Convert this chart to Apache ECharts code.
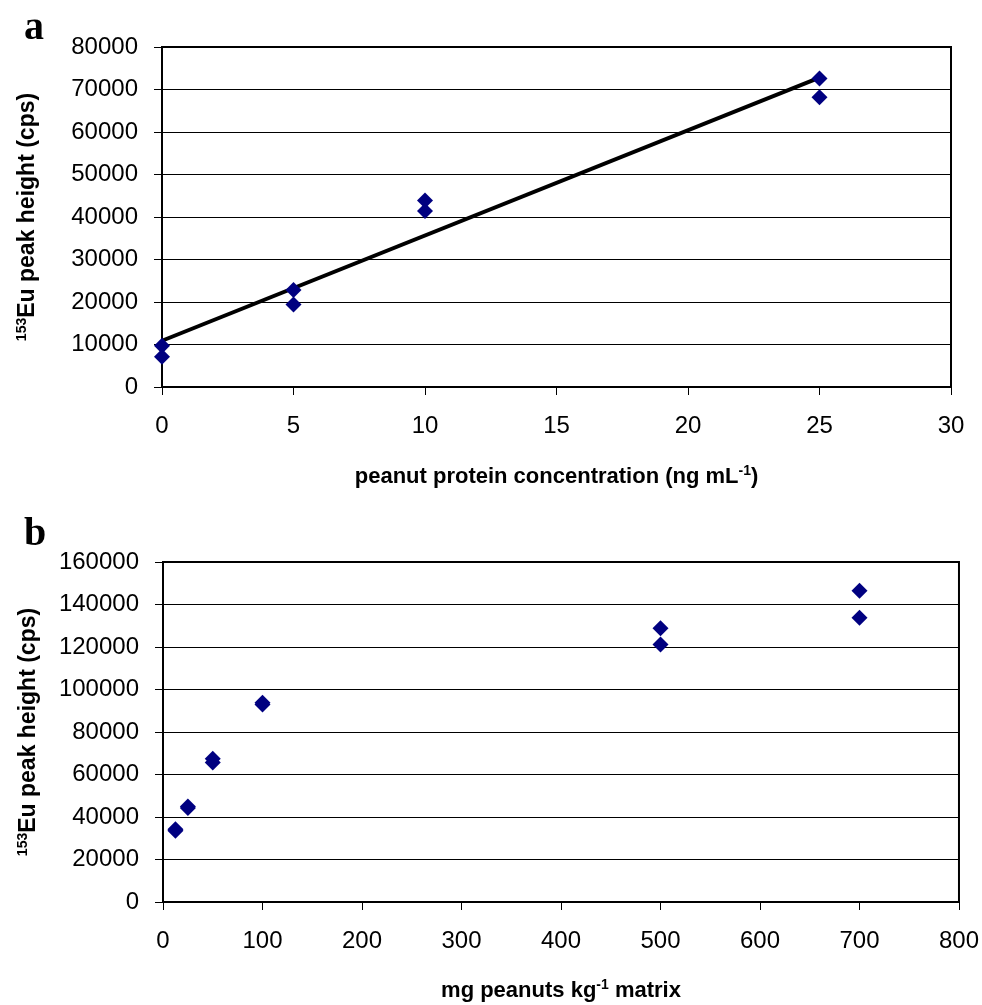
<!DOCTYPE html>
<html><head><meta charset="utf-8">
<script src="https://cdn.jsdelivr.net/npm/echarts@6/dist/echarts.min.js"></script>
<style>html,body{margin:0;padding:0;background:#fff}#c{width:982px;height:1005px}</style>
</head><body><div id="c"></div>
<script>
// Panel a: calibration
const aX = [0, 0, 5, 5, 10, 10, 25, 25];
const aY = [9700, 7100, 22800, 19400, 43900, 41400, 72600, 68200];
const aYTicks = [0, 10000, 20000, 30000, 40000, 50000, 60000, 70000, 80000];
const aXTicks = [0, 5, 10, 15, 20, 25, 30];
// Panel b: spiked matrix
const bX = [12.5, 12.5, 25, 25, 50, 50, 100, 100, 500, 500, 700, 700];
const bY = [33500, 34200, 44200, 45000, 65600, 67400, 93000, 93800, 128800, 121200, 146500, 133800];
const bYTicks = [0, 20000, 40000, 60000, 80000, 100000, 120000, 140000, 160000];
const bXTicks = [0, 100, 200, 300, 400, 500, 600, 700, 800];

// least-squares trend line of panel a (Excel linear trendline)
function fit(xs, ys) {
  const n = xs.length;
  const mx = xs.reduce((s, v) => s + v, 0) / n;
  const my = ys.reduce((s, v) => s + v, 0) / n;
  let sxy = 0, sxx = 0;
  for (let i = 0; i < n; i++) { sxy += (xs[i] - mx) * (ys[i] - my); sxx += (xs[i] - mx) ** 2; }
  const b = sxy / sxx;
  return [b, my - b * mx];
}
const [slope, icpt] = fit(aX, aY);
const trend = [[0, icpt], [25, icpt + slope * 25]];

const FONT = 'Liberation Sans, Arial, sans-serif';
const tickStyle = { fontFamily: FONT, fontSize: 24, color: '#000', formatter: v => String(v) };
const yRich = {
  sup: { fontFamily: FONT, fontSize: 14, fontWeight: 'bold', verticalAlign: 'top', lineHeight: 26 },
  t: { fontFamily: FONT, fontSize: 23, fontWeight: 'bold', lineHeight: 26 }
};
const xRich = {
  t: { fontFamily: FONT, fontSize: 22, fontWeight: 'bold', lineHeight: 26 },
  sup: { fontFamily: FONT, fontSize: 14, fontWeight: 'bold', verticalAlign: 'top', lineHeight: 26 }
};

function yAxis(idx, ticks) {
  return {
    type: 'value', gridIndex: idx, min: ticks[0], max: ticks[ticks.length - 1],
    interval: ticks[1] - ticks[0],
    name: '{sup|153}{t|Eu peak height (cps)}', nameLocation: 'middle', nameRotate: 90, nameGap: 121,
    nameTextStyle: { rich: yRich, color: '#000' },
    axisLine: { show: true, lineStyle: { color: '#000', width: 2 } },
    axisTick: { show: true, length: 8, lineStyle: { color: '#000', width: 1 } },
    axisLabel: Object.assign({ margin: 24 }, tickStyle),
    splitLine: { show: true, lineStyle: { color: '#000', width: 1.2 } }
  };
}
function xAxis(idx, ticks, name, gap) {
  return {
    type: 'value', gridIndex: idx, min: ticks[0], max: ticks[ticks.length - 1],
    interval: ticks[1] - ticks[0],
    name: name, nameLocation: 'middle', nameGap: gap,
    nameTextStyle: { rich: xRich, color: '#000' },
    axisLine: { show: true, onZero: false, lineStyle: { color: '#000', width: 2 } },
    axisTick: { show: true, length: 8, lineStyle: { color: '#000', width: 1 } },
    axisLabel: Object.assign({ margin: 27 }, tickStyle),
    splitLine: { show: false }
  };
}

const chart = echarts.init(document.getElementById('c'), null, { renderer: 'canvas' });
chart.setOption({
  animation: false,
  backgroundColor: '#fff',
  grid: [
    { left: 162, right: 31, top: 47, height: 340, show: true, borderColor: '#000', borderWidth: 2, backgroundColor: 'transparent' },
    { left: 163, right: 22, top: 562, height: 340, show: true, borderColor: '#000', borderWidth: 2, backgroundColor: 'transparent' }
  ],
  title: [
    { text: 'a', left: 19, top: 4, textStyle: { fontFamily: 'Liberation Serif, serif', fontWeight: 'bold', fontSize: 40, color: '#000' } },
    { text: 'b', left: 19, top: 510, textStyle: { fontFamily: 'Liberation Serif, serif', fontWeight: 'bold', fontSize: 40, color: '#000' } }
  ],
  xAxis: [
    xAxis(0, aXTicks, '{t|peanut protein concentration (ng mL}{sup|-1}{t|)}', 77),
    xAxis(1, bXTicks, '{t|mg peanuts kg}{sup|-1}{t| matrix}', 76)
  ],
  yAxis: [yAxis(0, aYTicks), yAxis(1, bYTicks)],
  series: [
    { type: 'line', xAxisIndex: 0, yAxisIndex: 0, data: trend, symbol: 'none', lineStyle: { color: '#000', width: 4 }, z: 3 },
    { type: 'scatter', xAxisIndex: 0, yAxisIndex: 0, data: aX.map((x, i) => [x, aY[i]]), symbol: 'diamond', symbolSize: [16, 16], itemStyle: { color: '#000080', opacity: 1 }, z: 4 },
    { type: 'scatter', xAxisIndex: 1, yAxisIndex: 1, data: bX.map((x, i) => [x, bY[i]]), symbol: 'diamond', symbolSize: [16, 16], itemStyle: { color: '#000080', opacity: 1 }, z: 4 }
  ]
});
</script></body></html>
